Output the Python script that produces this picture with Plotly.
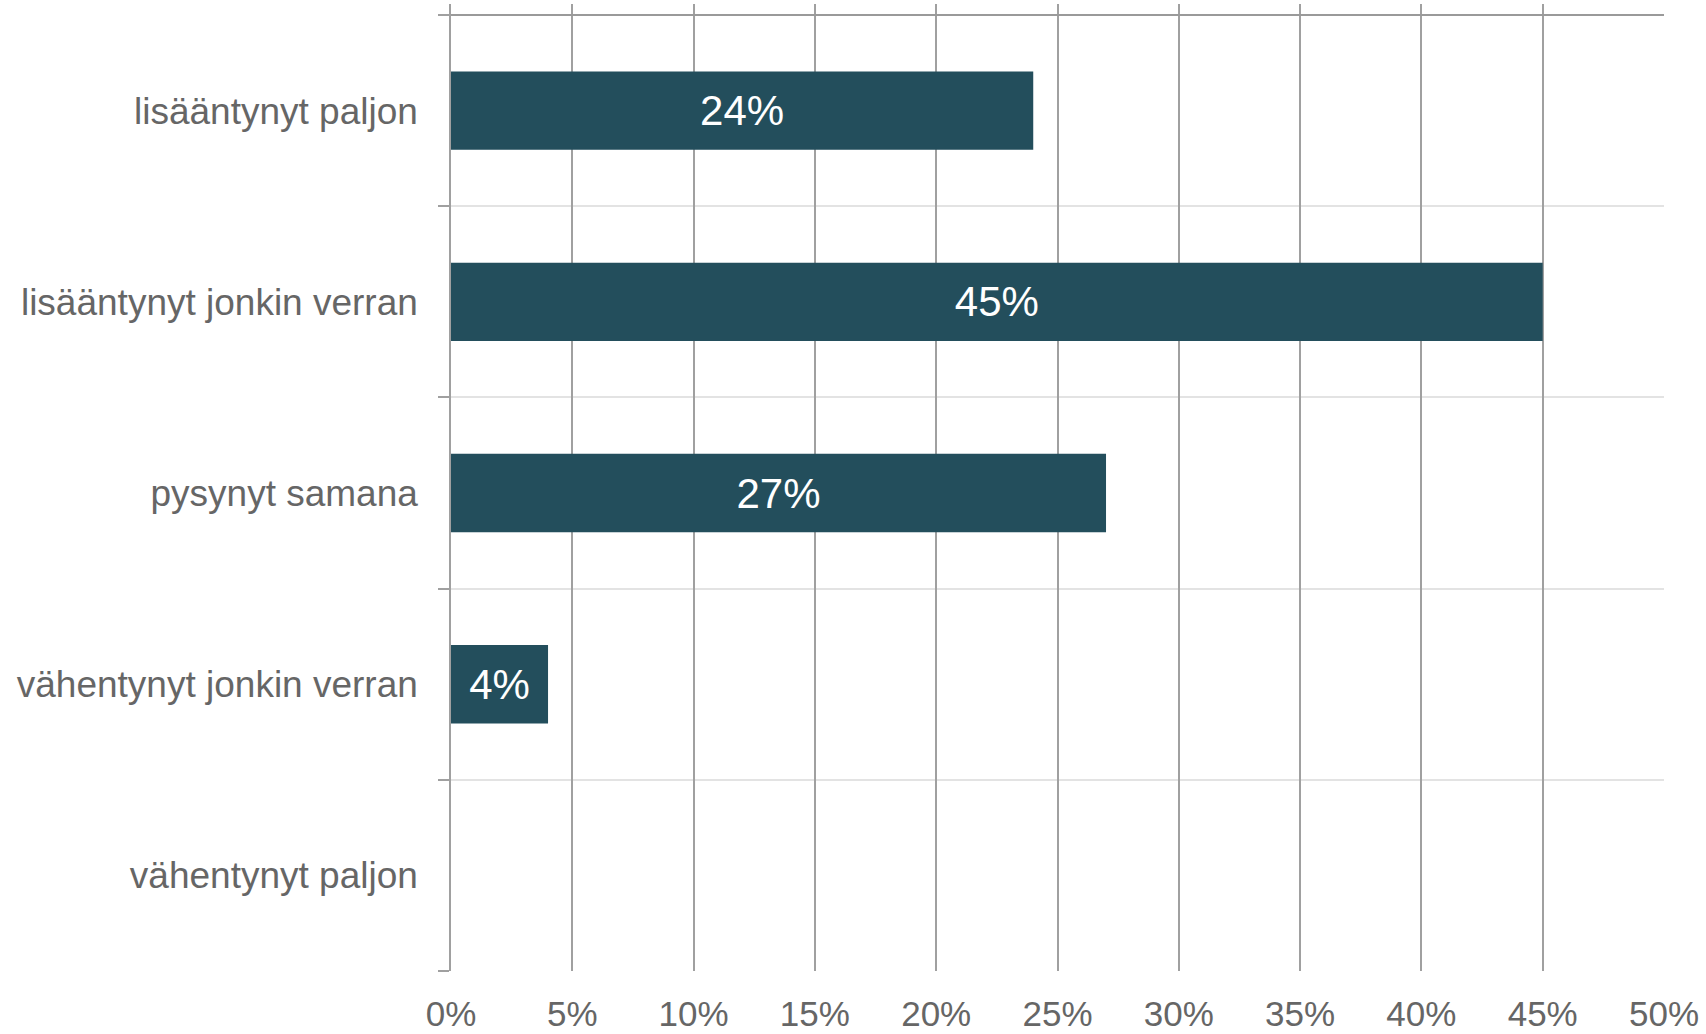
import plotly.graph_objects as go

categories = ["lisääntynyt paljon", "lisääntynyt jonkin verran", "pysynyt samana",
              "vähentynyt jonkin verran", "vähentynyt paljon"]
values = [24, 45, 27, 4, 0]
x_ticks = [0, 5, 10, 15, 20, 25, 30, 35, 40, 45, 50]
x_ticktext = [f"{v}%" for v in x_ticks]

positions = list(range(len(categories)))
labels = [f"{v}%" if v > 0 else "" for v in values]

fig = go.Figure()
fig.add_trace(go.Bar(
    x=values, y=positions, orientation="h",
    marker=dict(color="#234E5C", line=dict(width=0)),
    width=0.41,
    text=labels, textposition="inside", insidetextanchor="middle",
    textfont=dict(color="white", size=42, family="Liberation Sans, Arial"),
    cliponaxis=False,
))

boundaries = [p - 0.5 for p in positions] + [positions[-1] + 0.5]

fig.update_layout(
    width=1706, height=1034,
    margin=dict(l=451, r=42, t=4, b=63),
    paper_bgcolor="white", plot_bgcolor="white",
    showlegend=False,
    font=dict(family="Liberation Sans, Arial", color="#666666", size=37),
    xaxis=dict(
        range=[0, 50], tickvals=x_ticks, ticktext=x_ticktext,
        showgrid=True, gridcolor="#a0a0a0", gridwidth=1.5,
        zeroline=False, showline=False, ticks="",
        tickfont=dict(size=35, color="#666666"),
        ticklabelstandoff=19, automargin=False,
    ),
    yaxis=dict(
        range=[4.5, -0.5577], tickvals=positions, ticktext=categories,
        showgrid=False, zeroline=False, showline=True, linecolor="#a0a0a0", linewidth=1.5,
        ticks="", tickfont=dict(size=37, color="#666666"),
        ticklabelstandoff=24, automargin=False,
        minor=dict(tickvals=boundaries, showgrid=True, gridcolor="#e3e3e3", gridwidth=2,
                   ticks="outside", ticklen=11, tickcolor="#a0a0a0", tickwidth=1.5),
    ),
)
fig.add_shape(type="line", xref="x", yref="y", x0=0, x1=50, y0=-0.5, y1=-0.5,
              line=dict(color="#9a9a9a", width=2), layer="above")

fig.write_html("out.html", config={"displayModeBar": False},
               post_script="document.body.style.margin='0';document.body.style.overflow='hidden';")
